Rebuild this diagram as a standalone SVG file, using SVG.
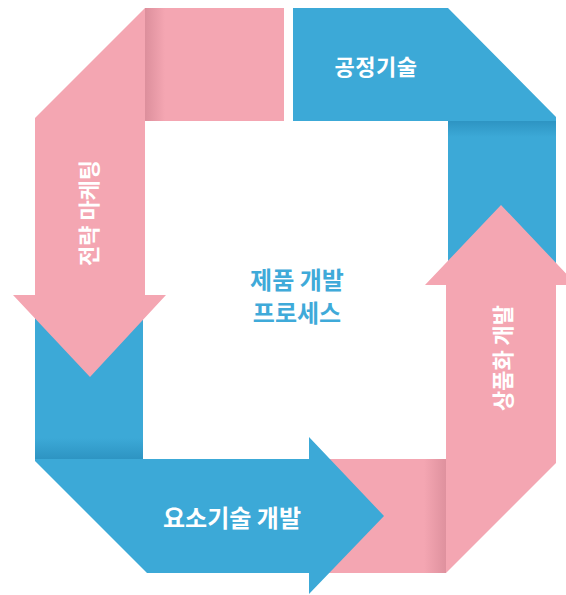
<svg xmlns="http://www.w3.org/2000/svg" width="566" height="595" viewBox="0 0 566 595">
<style>
.pink{fill:#F4A6B2}
.blue{fill:#3CA9D7}
.lbl{font-family:"Noto Sans CJK KR","Noto Sans",sans-serif;font-weight:700;fill:#FFFFFF;text-anchor:middle}
.ctr{font-family:"Noto Sans CJK KR","Noto Sans",sans-serif;font-weight:700;fill:#3FAAD9;text-anchor:middle;font-size:24px}
</style>
<defs>
<linearGradient id="shPinkL" x1="0" y1="0" x2="1" y2="0">
<stop offset="0" stop-color="#C97C8A" stop-opacity="0.55"/>
<stop offset="1" stop-color="#C97C8A" stop-opacity="0"/>
</linearGradient>
<linearGradient id="shPinkR" x1="1" y1="0" x2="0" y2="0">
<stop offset="0" stop-color="#C97C8A" stop-opacity="0.5"/>
<stop offset="1" stop-color="#C97C8A" stop-opacity="0"/>
</linearGradient>
<linearGradient id="shBlueB" x1="0" y1="1" x2="0" y2="0">
<stop offset="0" stop-color="#1F7FAE" stop-opacity="0.5"/>
<stop offset="1" stop-color="#1F7FAE" stop-opacity="0"/>
</linearGradient>
<linearGradient id="shBlueT" x1="0" y1="0" x2="0" y2="1">
<stop offset="0" stop-color="#1F7FAE" stop-opacity="0.5"/>
<stop offset="1" stop-color="#1F7FAE" stop-opacity="0"/>
</linearGradient>
</defs>
<rect width="566" height="595" fill="#FFFFFF"/>

<g id="process-tech">
<polygon class="blue" points="293,8 448,8 556,117 556,300 448,300 448,121 293,121"/>
<rect x="448" y="121" width="108" height="16" fill="url(#shBlueT)"/>
<text class="lbl" x="376" y="75" font-size="22" letter-spacing="0.5">공정기술</text>
</g>

<g id="commercialization">
<polygon class="pink" points="320,459 446,459 446,285 425,285 501,205 577,285 556,285 556,463 446,573 320,573"/>
<rect x="424" y="459" width="22" height="114" fill="url(#shPinkR)"/>
<text class="lbl" font-size="22" transform="translate(511,358) rotate(-90)">상품화 개발</text>
</g>

<g id="element-tech">
<polygon class="blue" points="35,290 143,290 143,459 309,459 309,437 384,516 309,594 309,573 147,573 35,461"/>
<rect x="35" y="438" width="108" height="21" fill="url(#shBlueB)"/>
<text class="lbl" x="232" y="527" font-size="24">요소기술 개발</text>
</g>

<g id="strategy-marketing">
<polygon class="pink" points="145,8 284,8 284,121 145,121 145,295 166,295 90,377 13,295 35,295 35,118"/>
<rect x="145" y="8" width="20" height="113" fill="url(#shPinkL)"/>
<text class="lbl" font-size="22" transform="translate(97,213) rotate(-90)">전략 마케팅</text>
</g>

<g id="center">
<text class="ctr" x="297" y="289">제품 개발</text>
<text class="ctr" x="297" y="322">프로세스</text>
</g>
</svg>
